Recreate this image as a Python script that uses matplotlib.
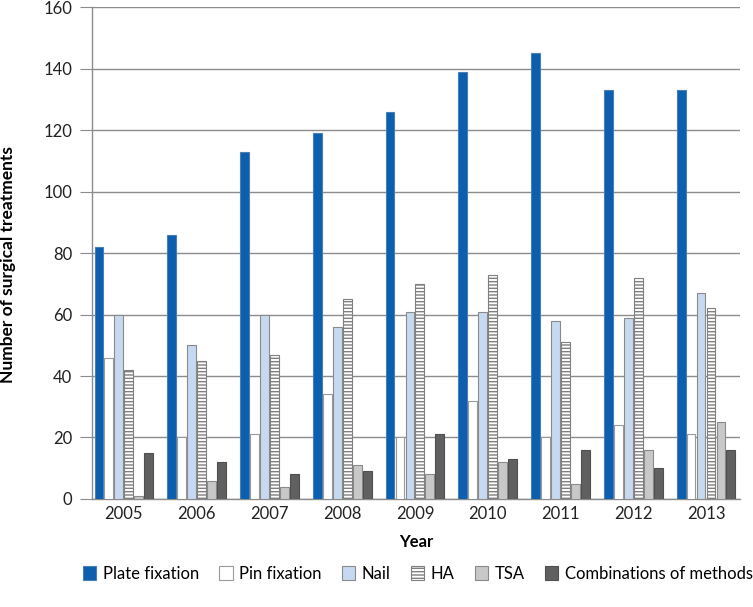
import matplotlib
matplotlib.use("Agg")
import matplotlib.pyplot as plt
import numpy as np

years = ["2005", "2006", "2007", "2008", "2009", "2010", "2011", "2012", "2013"]
plate = [82, 86, 113, 119, 126, 139, 145, 133, 133]
pin = [46, 20, 21, 34, 20, 32, 20, 24, 21]
nail = [60, 50, 60, 56, 61, 61, 58, 59, 67]
ha = [42, 45, 47, 65, 70, 73, 51, 72, 62]
tsa = [1, 6, 4, 11, 8, 12, 5, 16, 25]
combo = [15, 12, 8, 9, 21, 13, 16, 10, 16]
series_names = ["Plate fixation", "Pin fixation", "Nail", "HA", "TSA", "Combinations of methods"]

plt.rcParams['font.family'] = ['Lato', 'DejaVu Sans']
plt.rcParams['hatch.color'] = '#7f7f7f'
plt.rcParams['hatch.linewidth'] = 1.0

fig = plt.figure(figsize=(7.53, 6.07), dpi=100)
ax = fig.add_axes([0.122, 0.178, 0.861, 0.810])

styles = [
    dict(color='#0B5FAE', edgecolor='#4a7fb5', hatch=None),
    dict(color='white', edgecolor='#9a9a9a', hatch=None),
    dict(color='#C6D9F0', edgecolor='#8a8a8a', hatch=None),
    dict(color='white', edgecolor='#7f7f7f', hatch='-----'),
    dict(color='#C8C8C8', edgecolor='#8a8a8a', hatch=None),
    dict(color='#606060', edgecolor='#505050', hatch=None),
]
data = [plate, pin, nail, ha, tsa, combo]
x = np.arange(len(years))
step = 0.137
width = 0.122
handles = []
for i, (vals, st, name) in enumerate(zip(data, styles, series_names)):
    offs = (i - 2.5) * step
    b = ax.bar(x + offs, vals, width=width, color=st['color'], edgecolor=st['edgecolor'],
               hatch=st['hatch'], linewidth=0.8, label=name, zorder=3)
    handles.append(b)

ax.set_xlim(-0.44, 8.47)
ax.set_ylim(0, 160)
ax.set_yticks(np.arange(0, 161, 20))
ax.yaxis.grid(True, color='#8c8c8c', linewidth=1.0, zorder=0)
ax.set_axisbelow(True)
for s in ['top', 'right']:
    ax.spines[s].set_visible(False)
ax.spines['left'].set_color('#8c8c8c')
ax.spines['bottom'].set_color('#8c8c8c')
ax.spines['left'].set_linewidth(1.0)
ax.spines['bottom'].set_linewidth(1.0)
ax.set_xticks(x)
ax.set_xticklabels(years)
ax.tick_params(axis='x', length=0, labelsize=12, colors='#222222', pad=5)
ax.tick_params(axis='y', length=9, color='#8c8c8c', labelsize=12, colors='#222222', pad=5)
ax.set_xlabel("Year", fontsize=12, fontweight='bold', labelpad=9)
ax.set_ylabel("Number of surgical treatments", fontsize=12.5, fontweight='bold')
ax.yaxis.set_label_coords(-0.117, 0.476)

fig.legend(handles, series_names, loc='center', bbox_to_anchor=(0.555, 0.055), ncol=6,
           frameon=False, fontsize=12, handlelength=0.8, handleheight=1.0,
           handletextpad=0.4, columnspacing=1.2)

fig.savefig("out.png", dpi=100)
